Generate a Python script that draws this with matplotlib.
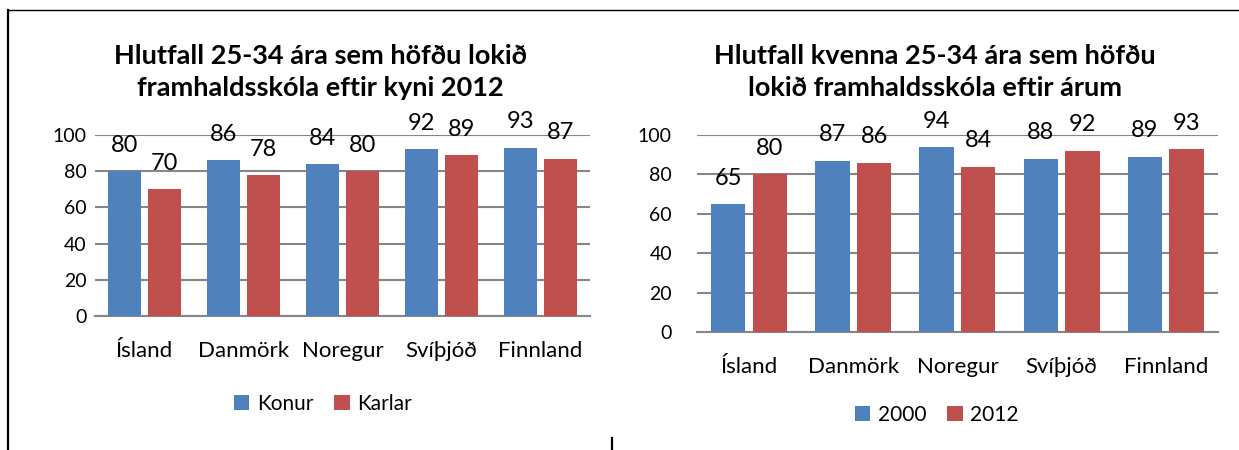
import numpy as np
import matplotlib
matplotlib.use('Agg')
import matplotlib.pyplot as plt
from matplotlib.lines import Line2D

plt.rcParams['font.family'] = ['Lato', 'DejaVu Sans']

countries = ["Ísland", "Danmörk", "Noregur", "Svíþjóð", "Finnland"]

# left chart: 2012 by sex
konur = [80, 86, 84, 92, 93]
karlar = [70, 78, 80, 89, 87]

# right chart: women by year
kvk_2000 = [65, 87, 94, 88, 89]
kvk_2012 = [80, 86, 84, 92, 93]

BLUE = "#4F81BD"
RED = "#C0504D"
GRID = "#868686"


def draw_panel(ax, s1, s2, labels, title, ypad, xpad, leg_y):
    x = np.arange(len(countries))
    w = 0.33
    b1 = ax.bar(x - 0.2, s1, width=w, color=BLUE, label=labels[0], zorder=3)
    b2 = ax.bar(x + 0.2, s2, width=w, color=RED, label=labels[1], zorder=3)
    ax.bar_label(b1, padding=11, fontsize=17, clip_on=False)
    ax.bar_label(b2, padding=11, fontsize=17, clip_on=False)
    ax.set_xlim(-0.5, len(countries) - 0.5)
    ax.set_ylim(0, 100)
    ax.set_yticks(range(0, 101, 20))
    ax.set_xticks(x)
    ax.set_xticklabels(countries)
    ax.grid(axis='y', color=GRID, linewidth=1.5, zorder=0)
    ax.set_axisbelow(True)
    for s in ['top', 'right', 'left']:
        ax.spines[s].set_visible(False)
    ax.spines['bottom'].set_color(GRID)
    ax.spines['bottom'].set_linewidth(1.5)
    ax.tick_params(axis='y', length=0, labelsize=14, pad=ypad)
    ax.tick_params(axis='x', length=0, labelsize=16, pad=xpad)
    # title and legend are centred on the whole chart box, not the plot area
    ax.set_title(title, fontsize=19.5, fontweight='bold', pad=28, linespacing=1.42, x=0.456)
    ax.legend(loc='upper center', bbox_to_anchor=(0.46, leg_y), ncol=2, frameon=False,
              fontsize=15, handlelength=0.75, handleheight=0.75, handletextpad=0.35,
              columnspacing=1.0)


fig = plt.figure(figsize=(12.39, 4.5), dpi=100)
ax1 = fig.add_axes([0.0767, 0.2978, 0.3995, 0.4022])
ax2 = fig.add_axes([0.5625, 0.2622, 0.4205, 0.4378])

draw_panel(ax1, konur, karlar, ["Konur", "Karlar"],
           "Hlutfall 25-34 ára sem höfðu lokið\nframhaldsskóla eftir kyni 2012",
           6, 18, -0.325)
draw_panel(ax2, kvk_2000, kvk_2012, ["2000", "2012"],
           "Hlutfall kvenna 25-34 ára sem höfðu\nlokið framhaldsskóla eftir árum",
           18, 18, -0.275)

# frame lines around the page region
fig.add_artist(Line2D([7.5 / 1239, 7.5 / 1239], [0, 1 - 10 / 450], color='black', linewidth=1.6))
fig.add_artist(Line2D([7.5 / 1239, 1], [1 - 10 / 450, 1 - 10 / 450], color='black', linewidth=1.0))
fig.add_artist(Line2D([612 / 1239, 612 / 1239], [0, 12 / 450], color='black', linewidth=1.6))

fig.savefig("out.png", dpi=100)
